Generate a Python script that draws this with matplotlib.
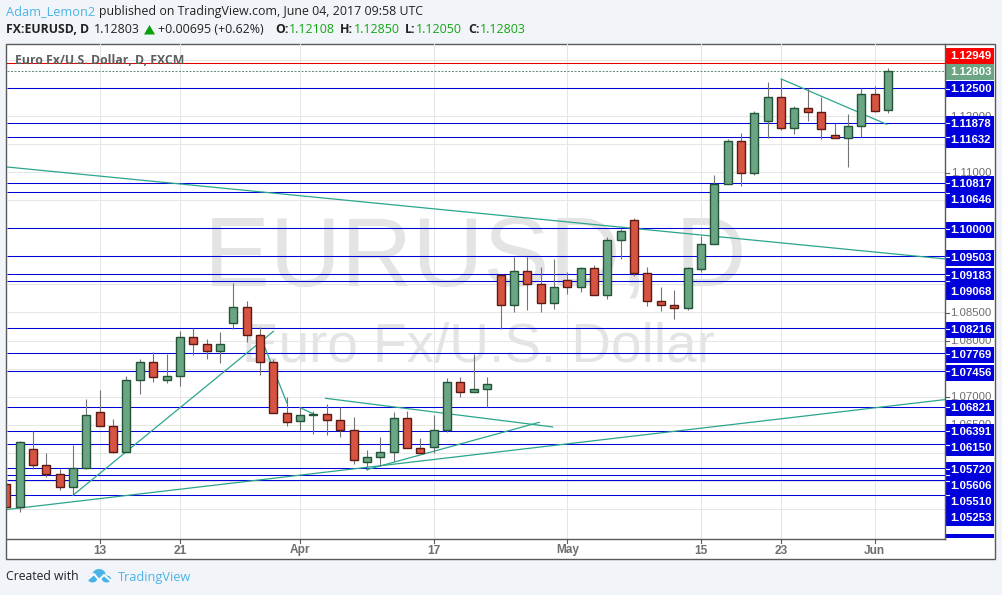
import matplotlib
matplotlib.use('Agg')
import matplotlib.pyplot as plt
from matplotlib.patches import Rectangle, Polygon, Ellipse

# Daily candles
opens = [1.05444, 1.05027, 1.06068, 1.05783, 1.05615, 1.05383, 1.05722, 1.06728, 1.06478, 1.06007,
         1.07298, 1.07619, 1.07291, 1.07362, 1.08065, 1.07940, 1.07808, 1.08307, 1.08599, 1.08100,
         1.07619, 1.06710, 1.06567, 1.06674, 1.06692, 1.06585, 1.06407, 1.05836, 1.05925, 1.06014,
         1.06621, 1.06086, 1.06103, 1.06407, 1.07262, 1.07084, 1.07138, 1.09170, 1.08635, 1.09241,
         1.09009, 1.08671, 1.09081, 1.08956, 1.09295, 1.08806, 1.09794, 1.10151, 1.09206, 1.08706,
         1.08635, 1.08582, 1.09277, 1.09723, 1.10792, 1.11559, 1.10988, 1.11915, 1.12343, 1.11791,
         1.12147, 1.12076, 1.11666, 1.11612, 1.11826, 1.12397, 1.12108]
highs = [1.05485, 1.06216, 1.06382, 1.05996, 1.05711, 1.06132, 1.06959, 1.07125, 1.06603, 1.07369,
         1.07672, 1.07797, 1.07761, 1.08177, 1.08230, 1.08034, 1.08159, 1.09027, 1.08706, 1.08248,
         1.07672, 1.06995, 1.06817, 1.06745, 1.06870, 1.06822, 1.06644, 1.06050, 1.06282, 1.06728,
         1.06745, 1.06264, 1.06674, 1.07334, 1.07352, 1.07761, 1.07352, 1.09175, 1.09491, 1.09496,
         1.09313, 1.09455, 1.09223, 1.09313, 1.09348, 1.09847, 1.09983, 1.10186, 1.09313, 1.08956,
         1.08903, 1.09313, 1.09871, 1.10953, 1.11595, 1.11702, 1.12094, 1.12611, 1.12664, 1.12183,
         1.12504, 1.12343, 1.11880, 1.12040, 1.12504, 1.12539, 1.12850]
lows = [1.05021, 1.04950, 1.05711, 1.05562, 1.05330, 1.05241, 1.05704, 1.06478, 1.05989, 1.06007,
        1.07041, 1.07255, 1.07237, 1.07184, 1.07737, 1.07665, 1.07594, 1.08200, 1.07968, 1.07380,
        1.06710, 1.06483, 1.06412, 1.06335, 1.06310, 1.06278, 1.05793, 1.05693, 1.05770, 1.05854,
        1.06086, 1.05996, 1.05996, 1.06364, 1.06995, 1.07084, 1.06810, 1.08207, 1.08510, 1.08539,
        1.08503, 1.08557, 1.08824, 1.08867, 1.08813, 1.08735, 1.09455, 1.09145, 1.08623, 1.08528,
        1.08386, 1.08546, 1.09216, 1.09723, 1.10792, 1.10749, 1.10953, 1.11612, 1.11755, 1.11677,
        1.11921, 1.11595, 1.11612, 1.11095, 1.11630, 1.12081, 1.12050]
closes = [1.05027, 1.06193, 1.05775, 1.05615, 1.05383, 1.05729, 1.06674, 1.06478, 1.06007, 1.07298,
          1.07619, 1.07352, 1.07369, 1.08065, 1.07933, 1.07808, 1.07940, 1.08599, 1.08093, 1.07619,
          1.06710, 1.06549, 1.06674, 1.06692, 1.06585, 1.06407, 1.05872, 1.05925, 1.06014, 1.06621,
          1.06086, 1.05996, 1.06407, 1.07262, 1.07084, 1.07138, 1.07227, 1.08635, 1.09241, 1.09009,
          1.08671, 1.08956, 1.08956, 1.09295, 1.08813, 1.09794, 1.09954, 1.09206, 1.08706, 1.08635,
          1.08582, 1.09295, 1.09723, 1.10792, 1.11559, 1.10988, 1.12058, 1.12343, 1.11791, 1.12147,
          1.12076, 1.11773, 1.11612, 1.11826, 1.12397, 1.12094, 1.12803]

# Horizontal levels drawn on the chart
levels = [1.12500, 1.11878, 1.11632, 1.10817, 1.10646, 1.10000, 1.09503, 1.09183, 1.09068,
          1.08216, 1.07769, 1.07456, 1.06821, 1.06391, 1.06150, 1.05720, 1.05606, 1.05510, 1.05253]
session_high = 1.12949
last_close = 1.12803

# Trend lines as (bar, price, bar, price)
trend_lines = [
    (0.0, 1.11095, 70.27, 1.09455),
    (0.0, 1.04986, 70.27, 1.06947),
    (5.0, 1.05241, 20.0, 1.08164),
    (19.0, 1.08093, 21.0, 1.06893),
    (22.0, 1.06804, 23.0, 1.06692),
    (23.9, 1.06970, 40.9, 1.06460),
    (27.0, 1.05699, 39.9, 1.06542),
    (58.0, 1.12664, 65.9, 1.11855),
]

tick_bars = [7, 13, 22, 32, 42, 52, 58, 65]
tick_labels = ['13', '21', 'Apr', '17', 'May', '15', '23', 'Jun']
price_ticks = [1.130, 1.125, 1.120, 1.115, 1.110, 1.105, 1.100, 1.095, 1.090, 1.085, 1.080,
               1.075, 1.070, 1.065, 1.060, 1.055, 1.050]
# the round prices that are not fully hidden by a level box
shown_prices = [1.120, 1.115, 1.110, 1.085, 1.080, 1.070, 1.065, 1.060]

BG = '#f1f4f8'
UP, UP_EDGE = '#6ba583', '#225437'
DOWN, DOWN_EDGE = '#d75442', '#5b1a13'
WICK = '#737375'
BLUE = '#0000dd'
TEAL = '#2ba58d'
GRID = '#e6e6e6'
LINK = '#4bb4e6'
GREEN = '#12a812'
SANS = 'Open Sans'
ARIAL = 'Liberation Sans'

fig = plt.figure(figsize=(10.02, 5.95), dpi=100, facecolor=BG)

# Pixel canvas for everything around the plot
frame = fig.add_axes([0, 0, 1, 1])
frame.set_xlim(0, 1002)
frame.set_ylim(595, 0)
frame.axis('off')
frame.add_patch(Rectangle((6.5, 43.5), 988.5, 515, facecolor='white', edgecolor='#5a5a5a', lw=1.0))

# Price plot
L, R, T, B = 6.5, 945, 43.5, 539
ax = fig.add_axes([L / 1002, 1 - B / 595, (R - L) / 1002, (B - T) / 595])
ax.patch.set_alpha(0)
ax.set_xlim((L - 6.2) / 13.36, (R - 6.2) / 13.36)
# small shift so the level lines land on the same pixel rows as the reference
ax.set_ylim(1.14078 - (B + 0.4) * 0.00017828, 1.14078 - (T + 0.4) * 0.00017828)
ax.set_xticks(tick_bars)
ax.set_xticklabels([])
ax.set_yticks(price_ticks)
ax.set_yticklabels([])
ax.tick_params(length=0)
ax.grid(True, color=GRID, lw=0.75, zorder=1)
ax.set_axisbelow(True)
for s in ['top', 'left']:
    ax.spines[s].set_visible(False)
for s in ['right', 'bottom']:
    ax.spines[s].set_color('#5a5a5a')
    ax.spines[s].set_linewidth(1.0)

# Watermark
ax.text(475, 260, 'EURUSD, D', transform=frame.transData, family=ARIAL, fontsize=71,
        color='#e4e4e4', ha='center', va='center', zorder=0.5)
ax.text(478, 348, 'Euro Fx/U.S. Dollar', transform=frame.transData, family=ARIAL, fontsize=39.5,
        color='#e4e4e4', ha='center', va='center', zorder=0.5)

ax.hlines(levels, ax.get_xlim()[0], ax.get_xlim()[1], color=BLUE, lw=0.75, zorder=3)
ax.axhline(session_high, color='#e60000', lw=0.75, zorder=3)
ax.axhline(last_close, color='#6b8f7a', lw=0.72, ls=(0, (2, 1.5)), zorder=3)

for x0, y0, x1, y1 in trend_lines:
    ax.plot([x0, x1], [y0, y1], color=TEAL, lw=0.9, zorder=4)

# Candles
for i in range(len(opens)):
    up = closes[i] >= opens[i]
    ax.vlines(i, lows[i], highs[i], color=WICK, lw=0.8, zorder=5)
    ax.bar(i, abs(closes[i] - opens[i]), bottom=min(opens[i], closes[i]), width=0.6,
           color=UP if up else DOWN, edgecolor=UP_EDGE if up else DOWN_EDGE, lw=1.0, zorder=6)

# Chart title sits over the lines
ax.text(15, 60, 'Euro Fx/U.S. Dollar, D, FXCM', transform=frame.transData, family=SANS, fontsize=8.8,
        fontweight='bold', color='#5e5e5e', va='center', zorder=7)

# Date labels and ticks
for b, t in zip(tick_bars, tick_labels):
    px = 6.2 + 13.36 * b
    frame.plot([px, px], [539, 543], color='#5a5a5a', lw=0.8)
    frame.text(px, 550.5, t, family=ARIAL, fontsize=8.6, fontweight='bold', color='#6e6e6e',
               ha='center', va='center')

# Price axis: round prices underneath, level boxes on top
for p in price_ticks:
    py = (1.14078 - p) / 0.00017828
    frame.plot([945, 949], [py, py], color='#5a5a5a', lw=0.8)
for p in shown_prices:
    py = (1.14078 - p) / 0.00017828
    frame.text(971, py, '%.5f' % p, family=ARIAL, fontsize=8.2, color='#6e6e6e',
               ha='center', va='center', zorder=2)

level_label_px = [89, 124, 140, 184, 200, 230, 258, 275.5, 291.5, 330, 355, 373, 408, 432, 448,
                  470, 486, 502, 518]


def price_box(y, text, color):
    frame.add_patch(Rectangle((945.5, y - 8), 49, 16, facecolor=color, edgecolor='none', zorder=3))
    frame.text(971, y + 0.3, text, family=ARIAL, fontsize=8.2, fontweight='bold', color='white',
               ha='center', va='center', zorder=4)


for lv, y in zip(levels, level_label_px):
    price_box(y, '%.5f' % lv, BLUE)
    py = (1.14078 - lv) / 0.00017828
    frame.plot([945, 949], [py, py], color='white', lw=0.8, zorder=5)
price_box(56, '%.5f' % session_high, '#ff0000')
price_box(72, '%.5f' % last_close, UP)
frame.add_patch(Rectangle((945.5, 534), 49, 4, facecolor=BLUE, edgecolor='none', zorder=3))

# Header
frame.text(6, 11.5, 'Adam_Lemon2', family=SANS, fontsize=9.2, color=LINK, va='center')
frame.text(99, 11.5, 'published on TradingView.com, June 04, 2017 09:58 UTC', family=SANS,
           fontsize=8.96, color='#222222', va='center')
frame.text(6, 29.5, 'FX:EURUSD, D', family=SANS, fontsize=8.8, fontweight='bold', color='#222222', va='center')
frame.text(94, 29.5, '1.12803', family=SANS, fontsize=8.9, color='#222222', va='center')
frame.add_patch(Polygon([(144, 34.5), (155, 34.5), (149.5, 25)], facecolor='#0aa00a', edgecolor='none'))
frame.text(158, 29.5, '+0.00695 (+0.62%)', family=SANS, fontsize=8.9, color='#222222', va='center')
for lab, lx, val, vx in [('O:', 275, '1.12108', 289), ('H:', 340, '1.12850', 354),
                         ('L:', 405, '1.12050', 416), ('C:', 468, '1.12803', 480)]:
    frame.text(lx, 29.5, lab, family=SANS, fontsize=8.9, fontweight='bold', color='#222222', va='center')
    frame.text(vx, 29.5, val, family=SANS, fontsize=8.9, color=GREEN, va='center')

# Footer with the cloud logo
frame.text(6, 577, 'Created with', family=SANS, fontsize=8.86, color='#222222', va='center')
frame.add_patch(Ellipse((99, 574.5), 13, 11, facecolor=LINK, edgecolor='none'))
frame.add_patch(Ellipse((92.5, 579), 9, 7, facecolor=LINK, edgecolor='none'))
frame.add_patch(Ellipse((106.5, 579), 9, 7, facecolor=LINK, edgecolor='none'))
frame.plot([88, 94, 99, 104, 111], [579, 574, 580, 575, 581], color='white', lw=1.4, solid_capstyle='round')
frame.text(118, 577, 'TradingView', family=SANS, fontsize=9.2, color=LINK, va='center')

fig.savefig('out.png', dpi=100, facecolor=BG)
